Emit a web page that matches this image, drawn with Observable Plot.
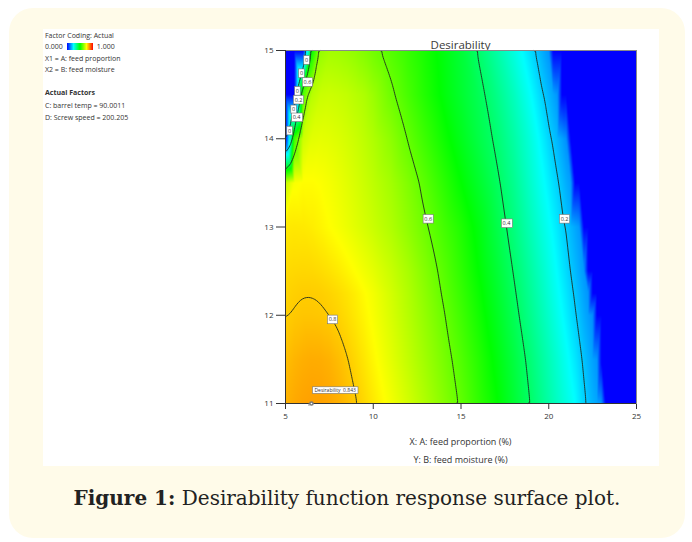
<!DOCTYPE html>
<html><head><meta charset="utf-8">
<script src="https://cdn.jsdelivr.net/npm/d3@7"></script>
<script src="https://cdn.jsdelivr.net/npm/@observablehq/plot@0.6"></script>
<style>
html,body{margin:0;padding:0;background:#fff;}
body{width:692px;height:542px;position:relative;overflow:hidden;font-family:"Open Sans","Noto Sans",sans-serif;}
#panel{position:absolute;left:9px;top:8px;width:676px;height:530px;background:#fffbe9;border-radius:24px;}
#inner{position:absolute;left:43px;top:29px;width:616px;height:437px;background:#fff;}
.lg{position:absolute;left:45px;font-size:7px;color:#333;white-space:nowrap;line-height:10px;}
.bar{display:inline-block;width:26px;height:7px;vertical-align:-1px;margin:0 4px;background:linear-gradient(to right,#0000ff,#00ffff,#00ff00,#ffff00,#ff0000);}
#title{position:absolute;left:285px;width:351px;top:37px;text-align:center;font-size:11.5px;color:#3a3a3a;}
.axl{position:absolute;left:285px;width:351px;text-align:center;font-size:9px;color:#333;}
#chart{position:absolute;left:245px;top:30px;}
#caption{position:absolute;left:9px;width:676px;top:486px;text-align:center;font-family:"DejaVu Serif","Liberation Serif",serif;font-size:20px;color:#222;}
</style></head>
<body>
<div id="panel"></div>
<div id="inner"></div>
<div class="lg" style="top:31px">Factor Coding: Actual</div>
<div class="lg" style="top:42px">0.000<span class="bar"></span>1.000</div>
<div class="lg" style="top:54px">X1 = A: feed proportion</div>
<div class="lg" style="top:65px">X2 = B: feed moisture</div>
<div class="lg" style="top:88px;font-weight:bold">Actual Factors</div>
<div class="lg" style="top:101px">C: barrel temp = 90.0011</div>
<div class="lg" style="top:113px">D: Screw speed = 200.205</div>
<div id="title">Desirability</div>
<div class="axl" style="top:435px">X: A: feed proportion (%)</div>
<div class="axl" style="top:453px">Y: B: feed moisture (%)</div>
<div id="chart"></div>
<div id="caption"><b>Figure 1:</b> Desirability function response surface plot.</div>
<script>
// grid columns (feed proportion, %) and rows (feed moisture, %)
const gridX = [5,5.5,6,6.5,7,7.5,8,8.5,9,9.5,10,11,12,13,14,15,16,17,18,19,
  19.5,19.75,20,20.25,20.5,20.75,21,21.25,21.5,21.75,22,22.25,22.5,22.75,23,23.25,23.5,24,25];
const gridY = [15,14.5,14,13.5,13,12.5,12.25,12,11.5,11];
// desirability, one row per gridY value
const desirability = [
 [0,0,0,.50,.645,.66,.657,.65,.64,.627,.612,.583,.552,.52,.486,.447,.396,.34,.28,.215,
  .18,.162,.145,0,0,0,0,0,0,0,0,0,0,0,0,0,0,0,0],
 [0,0,.58,.68,.697,.70,.696,.69,.68,.67,.652,.609,.569,.53,.492,.455,.417,.37,.315,.25,
  .215,.197,.18,.163,.145,0,0,0,0,0,0,0,0,0,0,0,0,0,0],
 [0,.56,.70,.722,.725,.722,.716,.708,.698,.686,.672,.639,.597,.556,.515,.474,.432,.392,.34,.28,
  .245,.228,.21,.194,.178,.16,.14,0,0,0,0,0,0,0,0,0,0,0,0],
 [.69,.745,.752,.752,.748,.741,.732,.722,.711,.699,.686,.66,.625,.585,.543,.501,.458,.412,.36,.298,
  .266,.251,.236,.22,.205,.188,.17,.155,0,0,0,0,0,0,0,0,0,0,0],
 [.77,.772,.771,.767,.76,.751,.742,.732,.721,.71,.698,.673,.64,.605,.567,.53,.486,.432,.378,.318,
  .288,.273,.258,.243,.228,.212,.197,.181,.165,.15,0,0,0,0,0,0,0,0,0],
 [.785,.788,.789,.788,.784,.778,.77,.76,.749,.737,.725,.697,.665,.627,.587,.545,.50,.451,.398,.34,
  .31,.295,.279,.263,.247,.231,.215,.199,.183,.167,.15,0,0,0,0,0,0,0,0],
 [.79,.796,.799,.799,.797,.792,.785,.776,.765,.752,.739,.707,.673,.635,.595,.554,.51,.461,.408,.35,
  .32,.305,.289,.273,.257,.242,.226,.21,.195,.178,.16,.145,0,0,0,0,0,0,0],
 [.797,.803,.806,.806,.804,.80,.793,.783,.771,.758,.744,.712,.678,.642,.604,.563,.519,.471,.418,.36,
  .33,.315,.30,.284,.268,.252,.236,.22,.205,.188,.17,.155,.14,0,0,0,0,0,0],
 [.812,.822,.828,.831,.83,.825,.815,.802,.788,.773,.757,.724,.69,.655,.619,.58,.537,.49,.438,.382,
  .352,.337,.322,.307,.292,.276,.26,.244,.228,.21,.192,.176,.16,.145,0,0,0,0,0],
 [.825,.834,.84,.843,.842,.837,.828,.816,.803,.788,.772,.74,.706,.67,.633,.594,.548,.505,.451,.397,
  .367,.352,.337,.322,.307,.293,.279,.265,.25,.229,.208,.19,.175,.162,.15,0,0,0,0]
];
const contourLevels = [0.2,0.4,0.6,0.8];
const xTicks = [5,10,15,20,25];
const yTicks = [11,12,13,14,15];
const colorStops = [0,0.25,0.5,0.75,1];
const colorRange = ["#0000ff","#00ffff","#00ff00","#ffff00","#ff0000"];
// contour labels
const labelX = [6.2,5.91,6.25,5.68,5.74,5.46,5.63,5.23, 7.68,13.13,17.59,20.9];
const labelY = [14.89,14.74,14.64,14.54,14.44,14.33,14.24,14.09, 11.95,13.09,13.04,13.09];
const labelText = ["0","0","0.6","0","0.2","0","0.4","0", "0.8","0.6","0.4","0.2"];
// optimum flag
const flagX = [6.48];
const flagY = [11];
const flagText = ["Desirability  0.843"];

const points = [];
gridY.forEach((y,i) => gridX.forEach((x,j) => points.push({x, y, v: desirability[i][j]})));
const labels = labelText.map((t,i) => ({x: labelX[i], y: labelY[i], t}));
const flag = flagText.map((t,i) => ({x: flagX[i], y: flagY[i], t}));

const chart = Plot.plot({
  width: 401, height: 403,
  marginLeft: 40, marginRight: 10, marginTop: 20, marginBottom: 30,
  style: {fontSize: "8px", fontFamily: "Open Sans, Noto Sans, sans-serif", color: "#333", background: "transparent"},
  x: {domain: [5,25], ticks: xTicks, tickSize: 6, tickPadding: 4, tickFormat: "d", label: null},
  y: {domain: [11,15], ticks: yTicks, tickSize: 9, tickPadding: 3, tickFormat: "d", label: null},
  color: {type: "linear", domain: colorStops, range: colorRange, interpolate: "rgb", clamp: true},
  marks: [
    Plot.raster(points, {x: "x", y: "y", fill: "v", interpolate: "barycentric", pixelSize: 1}),
    Plot.contour(points, {x: "x", y: "y", value: "v", interpolate: "barycentric", blur: 2, thresholds: contourLevels, fill: "none", stroke: "#1e2a1e", strokeWidth: 0.9}),
    Plot.frame({stroke: "#8a8a8a"}),
    Plot.ruleX([5], {stroke: "#333"}),
    Plot.ruleY([11], {stroke: "#333"}),
    Plot.text(labels, {x: "x", y: "y", text: "t", fontSize: 5.5, fill: "#333"}),
    Plot.dot(flag, {x: "x", y: "y", r: 1.6, stroke: "#777", fill: "#fff"}),
    Plot.text(flag, {x: "x", y: "y", text: "t", dx: 3, dy: -13, textAnchor: "start", fontSize: 5, fill: "#333"})
  ]
});
document.getElementById("chart").appendChild(chart);

const textGroups = chart.querySelectorAll('g[aria-label="text"]');
// boxes behind labels
function boxify(g, pad) {
  if (!g) return;
  g.querySelectorAll("text").forEach(function(el) {
    const b = el.getBBox();
    const r = document.createElementNS("http://www.w3.org/2000/svg", "rect");
    r.setAttribute("x", b.x - pad); r.setAttribute("y", b.y - 0.3);
    r.setAttribute("width", b.width + 2*pad); r.setAttribute("height", b.height + 0.6);
    r.setAttribute("fill", "#fff"); r.setAttribute("stroke", "#777"); r.setAttribute("stroke-width", 0.6);
    const t = el.getAttribute("transform");
    if (t) r.setAttribute("transform", t);
    el.parentNode.insertBefore(r, el);
  });
}
boxify(textGroups[0], 1.2);
boxify(textGroups[1], 2);
// stem of the flag, from the dot up to the box
const dot = chart.querySelector('g[aria-label="dot"] circle');
const fr = textGroups[1] && textGroups[1].querySelector("rect");
if (dot && fr) {
  const dt = dot.getAttribute("transform");
  let cx = +dot.getAttribute("cx") || 0, cy = +dot.getAttribute("cy") || 0;
  if (dt) { const m = dt.match(/translate\(([-\d.]+),\s*([-\d.]+)\)/); if (m) { cx += +m[1]; cy += +m[2]; } }
  let rx = +fr.getAttribute("x"), ry = +fr.getAttribute("y") + +fr.getAttribute("height");
  const ft = fr.getAttribute("transform");
  if (ft) { const m = ft.match(/translate\(([-\d.]+),\s*([-\d.]+)\)/); if (m) { rx += +m[1]; ry += +m[2]; } }
  const ln = document.createElementNS("http://www.w3.org/2000/svg", "line");
  ln.setAttribute("x1", rx); ln.setAttribute("x2", rx);
  ln.setAttribute("y1", ry); ln.setAttribute("y2", cy);
  ln.setAttribute("stroke", "#777"); ln.setAttribute("stroke-width", 0.8);
  chart.appendChild(ln);
}
</script>
</body></html>
